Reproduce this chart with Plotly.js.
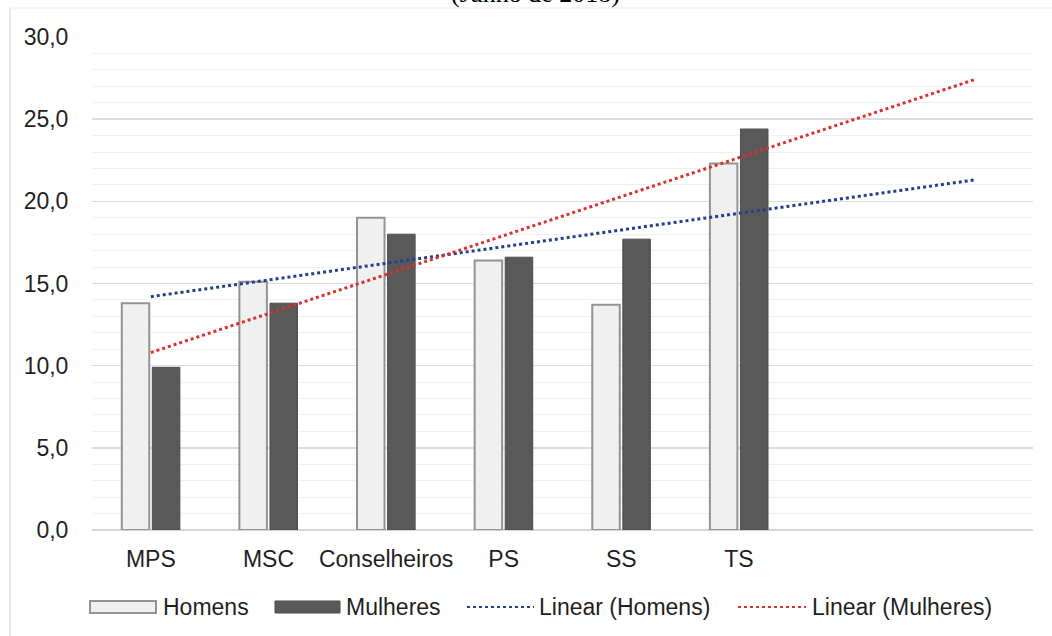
<!DOCTYPE html>
<html>
<head>
<meta charset="utf-8">
<script src="https://cdn.plot.ly/plotly-3.0.1.min.js"></script>
<style>
  html, body { margin: 0; padding: 0; background: #ffffff; }
  #chart { width: 1052px; height: 636px; }
</style>
</head>
<body>
<div id="chart"></div>
<script>
// ---- data ----
const categories = ["MPS", "MSC", "Conselheiros", "PS", "SS", "TS"];
const homens   = [13.8, 15.1, 19.0, 16.4, 13.7, 22.3];
const mulheres = [9.9, 13.8, 18.0, 16.6, 17.7, 24.4];
// linear trend lines (Excel-style, forecast forward 2 periods): x index and values at ends
const trendX = [0, 7];
const trendHomens   = [14.2, 21.3];
const trendMulheres = [10.8, 27.4];
const seriesNames = ["Homens", "Mulheres", "Linear (Homens)", "Linear (Mulheres)"];
const yTicks = [0, 5, 10, 15, 20, 25, 30];
const yTickText = ["0,0", "5,0", "10,0", "15,0", "20,0", "25,0", "30,0"];
const titleText = "(Junho de 2018)";

// ---- styling ----
const FONT = "Liberation Sans, Arial, Helvetica, sans-serif";
const FS = 23;
const TXT = "#1f1f1f";
const cHom = "#f0f0f0", cHomLine = "#939393";
const cMul = "#595959", cMulLine = "#4d4d4d";
const cBlue = "#233f8c", cRed = "#d8322e";

const xIdx = categories.map((_, i) => i);

const traces = [
  { type: "bar", name: seriesNames[0], x: xIdx, y: homens,
    marker: { color: cHom, line: { color: cHomLine, width: 2 } }, showlegend: false, hoverinfo: "y" },
  { type: "bar", name: seriesNames[1], x: xIdx, y: mulheres,
    marker: { color: cMul, line: { color: cMulLine, width: 1 } }, showlegend: false, hoverinfo: "y" },
  { type: "scatter", mode: "lines", name: seriesNames[2], x: trendX, y: trendHomens,
    line: { color: cBlue, width: 3, dash: "dot" }, showlegend: false },
  { type: "scatter", mode: "lines", name: seriesNames[3], x: trendX, y: trendMulheres,
    line: { color: cRed, width: 3, dash: "dot" }, showlegend: false }
];

// plot area in pixels: left 92, right 1033, top 37, bottom 530
const L = 92, R = 1033, T = 37, B = 530;
const px = v => (v - L) / (R - L);
const py = v => (B - v) / (B - T);

const legY = py(607);
const shapes = [
  // outer frame (left and top edges only)
  { type: "line", xref: "paper", yref: "paper", x0: px(10), x1: px(10), y0: py(636), y1: py(8),
    line: { color: "#dedede", width: 1.5 } },
  { type: "line", xref: "paper", yref: "paper", x0: px(10), x1: px(1052), y0: py(8), y1: py(8),
    line: { color: "#f2f2f2", width: 1.5 } },
  // legend symbols
  { type: "rect", xref: "paper", yref: "paper", x0: px(90), x1: px(156), y0: py(613), y1: py(601),
    fillcolor: cHom, line: { color: cHomLine, width: 2 } },
  { type: "rect", xref: "paper", yref: "paper", x0: px(275), x1: px(340), y0: py(613), y1: py(601),
    fillcolor: cMul, line: { color: cMulLine, width: 1 } },
  { type: "line", xref: "paper", yref: "paper", x0: px(467), x1: px(534), y0: legY, y1: legY,
    line: { color: cBlue, width: 2, dash: "dot" } },
  { type: "line", xref: "paper", yref: "paper", x0: px(738), x1: px(806), y0: legY, y1: legY,
    line: { color: cRed, width: 2, dash: "dot" } }
];

const legTextX = [161, 344, 537, 810];
const annotations = seriesNames.map((n, i) => ({
  xref: "paper", yref: "paper", x: px(legTextX[i]), y: legY, xanchor: "left", yanchor: "middle",
  text: n, showarrow: false, font: { family: FONT, size: FS, color: TXT }
}));
annotations.push({
  xref: "paper", yref: "paper", x: px(535), y: py(9.5), xanchor: "center", yanchor: "bottom",
  text: titleText, showarrow: false, font: { family: "Liberation Serif, Times New Roman, serif", size: 26, color: "#000" }
});

const layout = {
  width: 1052, height: 636,
  margin: { l: L, r: 1052 - R, t: T, b: 636 - B, pad: 0 },
  paper_bgcolor: "#ffffff", plot_bgcolor: "#ffffff",
  barmode: "group", bargap: 0.48, bargroupgap: 0.1,
  font: { family: FONT, size: FS, color: TXT },
  xaxis: {
    range: [-0.5, 7.5], tickvals: xIdx, ticktext: categories,
    showgrid: false, zeroline: false, showline: false,
    ticks: "outside", ticklen: 8, tickcolor: "rgba(0,0,0,0)",
    tickfont: { family: FONT, size: FS, color: TXT }, fixedrange: true
  },
  yaxis: {
    range: [0, 30], tickvals: yTicks, ticktext: yTickText,
    showgrid: true, gridcolor: "#dcdcdc", gridwidth: 1.5,
    minor: { dtick: 1, showgrid: true, gridcolor: "#f0f0f0", gridwidth: 1 },
    zeroline: true, zerolinecolor: "#d6d6d6", zerolinewidth: 1.5, showline: false,
    ticks: "outside", ticklen: 18, tickcolor: "rgba(0,0,0,0)",
    tickfont: { family: FONT, size: FS, color: TXT }, fixedrange: true
  },
  shapes: shapes,
  annotations: annotations,
  showlegend: false
};

Plotly.newPlot("chart", traces, layout, { displayModeBar: false, staticPlot: true });
</script>
</body>
</html>
